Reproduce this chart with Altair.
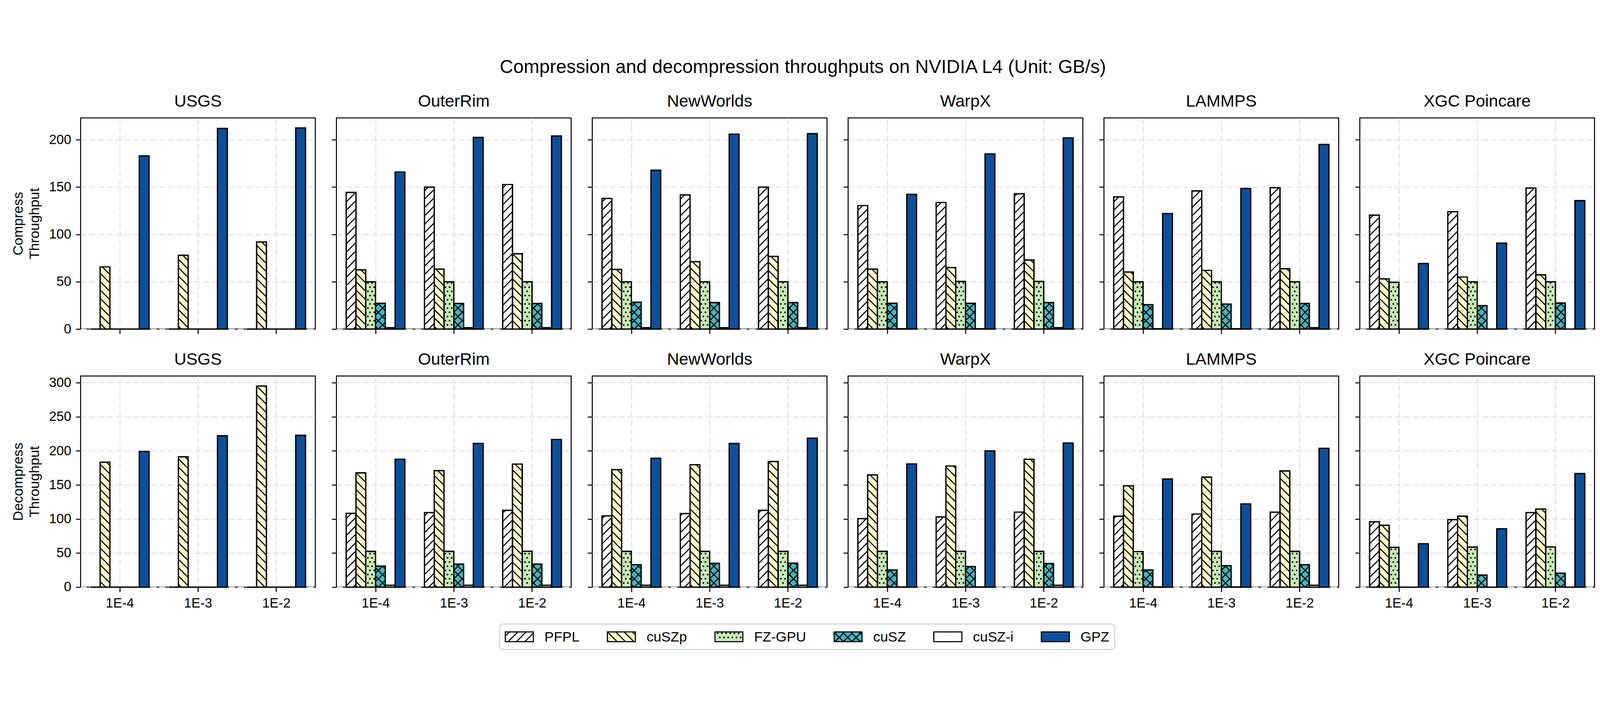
import json
import altair as alt
import pandas as pd

FONT = "Liberation Sans"

main_title = "Compression and decompression throughputs on NVIDIA L4 (Unit: GB/s)"
datasets = ["USGS", "OuterRim", "NewWorlds", "WarpX", "LAMMPS", "XGC Poincare"]
error_bounds = ["1E-4", "1E-3", "1E-2"]
compressors = ["PFPL", "cuSZp", "FZ-GPU", "cuSZ", "cuSZ-i", "GPZ"]
fill_colors = ["#ffffff", "#ffffcc", "#c7e9b4", "#41b6c4", "#ffffff", "#0b509c"]

# Compression throughput (GB/s): one list per dataset, values for 1E-4, 1E-3, 1E-2
comp_pfpl = [[0, 0, 0], [144.4, 150, 152.8], [138, 141.7, 150], [130.5, 133.8, 143], [139.7, 146, 149.4], [120.4, 124, 149]]
comp_cuszp = [[65.7, 78, 92], [62.6, 63.3, 79.6], [63, 71.2, 76.8], [63.3, 65, 73], [60.3, 62, 63.7], [53, 55, 57.3]]
comp_fzgpu = [[0, 0, 0], [50, 50, 50], [50, 50, 50], [50, 50.4, 50.4], [50, 50, 50], [49.4, 50, 50]]
comp_cusz = [[0, 0, 0], [27.2, 27, 27], [28.4, 28, 28], [27.3, 27.3, 28], [25.8, 26.4, 27], [0, 24.8, 27.5]]
comp_cuszi = [[0, 0, 0], [1.4, 1.4, 1.4], [1.4, 1.4, 1.4], [0.3, 0.3, 1.4], [0.3, 0.3, 1.4], [0, 0, 0]]
comp_gpz = [[183, 212, 212.5], [166, 202.5, 204], [167.8, 206, 206.5], [142.3, 185, 202], [122, 148.6, 195], [69.2, 90.8, 135.7]]

# Decompression throughput (GB/s)
dec_pfpl = [[0, 0, 0], [108.4, 109.5, 112.7], [104.6, 108, 112.7], [100.5, 103, 110.2], [104.1, 107.3, 110], [96, 99.2, 109.5]]
dec_cuszp = [[183.5, 191.3, 295.2], [167.7, 171, 180.7], [172.6, 179.6, 184.4], [164.7, 177.8, 187.7], [148.7, 161.4, 170.6], [90.8, 104.1, 114.7]]
dec_fzgpu = [[0, 0, 0], [52.5, 52.5, 52.7], [52.5, 52.5, 52.5], [52.5, 52.5, 52.5], [52.3, 52.5, 52.5], [58.4, 58.8, 59]]
dec_cusz = [[0, 0, 0], [30.9, 33.8, 33.8], [32.9, 34.9, 35.2], [25.2, 30.2, 34.7], [25.2, 31.5, 32.9], [0, 17.8, 20.5]]
dec_cuszi = [[0, 0, 0], [2.7, 2.7, 2.7], [2.7, 2.7, 2.7], [0.3, 0.3, 2.7], [0.3, 0.3, 2.7], [0, 0, 0]]
dec_gpz = [[199.2, 222.2, 222.9], [187.7, 211, 216.8], [189.3, 211, 218.6], [180.8, 200, 211.6], [158.7, 122.2, 203.7], [63.6, 85.6, 166.8]]

row_titles = {"Compress": ["Compress", "Throughput"], "Decompress": ["Decompress", "Throughput"]}
y_ticks = {"Compress": [0, 50, 100, 150, 200], "Decompress": [0, 50, 100, 150, 200, 250, 300]}

tables = {
    "Compress": [comp_pfpl, comp_cuszp, comp_fzgpu, comp_cusz, comp_cuszi, comp_gpz],
    "Decompress": [dec_pfpl, dec_cuszp, dec_fzgpu, dec_cusz, dec_cuszi, dec_gpz],
}

records = []
for rowname, table in tables.items():
    for si, comp in enumerate(compressors):
        for di, ds in enumerate(datasets):
            for ei, eb in enumerate(error_bounds):
                records.append({"row": rowname, "dataset": ds, "eb": eb, "comp": comp,
                                "value": table[si][di][ei]})
df = pd.DataFrame(records)

# ---- layout / style constants ----
W, H = 700, 630
BARW = 0.125          # bar width in category units (6 bars -> 0.75 of a group)
PXX = W / 3.0         # pixels per category unit (domain -0.5..2.5)
S_LINE = 25.0         # hatch line spacing (px, vertical)
S_DOT = 12.5          # dot hatch spacing (px)
EDGE = 3.6
HATCH_W = 3.2
TICK_FS = 40
TITLE_FS = 50
PAD_LEFT = 22
LEGEND_SHIFT = 1248   # legend frame offset from the left edge of the first panel

EB_JS = json.dumps(error_bounds)
COMP_JS = json.dumps(compressors)

color_scale = alt.Scale(domain=compressors, range=fill_colors)


def hatch_layers(base, xs, ys, pxx, pxy, xa, ya):
    """Hatch decorations drawn inside each rectangle described by
    xl (data x of left edge), pxl (px of left edge), wpx/hpx (px size), ybpx (px of bottom)."""
    ne = (
        base.transform_filter("(datum.comp == 'PFPL' || datum.comp == 'cuSZ') && datum.hpx > 0")
        .transform_calculate(k="sequence(0, 34)")
        .transform_flatten(["k"])
        .transform_calculate(m0=f"floor((-datum.wpx - datum.pxl) / {S_LINE}) + 1")
        .transform_calculate(c=f"datum.pxl + {S_LINE} * (datum.m0 + datum.k)")
        .transform_filter("datum.c < datum.hpx")
        .transform_calculate(qx0="max(0, -datum.c)")
        .transform_calculate(qx1="min(datum.wpx, datum.hpx - datum.c)")
        .transform_filter("datum.qx1 > datum.qx0")
        .transform_calculate(hx0=f"datum.xl + datum.qx0 / {pxx}")
        .transform_calculate(hx1=f"datum.xl + datum.qx1 / {pxx}")
        .transform_calculate(hy0=f"(datum.ybpx + datum.qx0 + datum.c) / {pxy}")
        .transform_calculate(hy1=f"(datum.ybpx + datum.qx1 + datum.c) / {pxy}")
        .mark_rule(color="black", strokeWidth=HATCH_W)
        .encode(x=alt.X("hx0:Q", scale=xs, axis=xa), x2="hx1:Q",
                y=alt.Y("hy0:Q", scale=ys, axis=ya), y2="hy1:Q")
    )
    se = (
        base.transform_filter("(datum.comp == 'cuSZp' || datum.comp == 'cuSZ') && datum.hpx > 0")
        .transform_calculate(k="sequence(0, 34)")
        .transform_flatten(["k"])
        .transform_calculate(m0=f"floor(datum.pxl / {S_LINE}) + 1")
        .transform_calculate(c=f"{S_LINE} * (datum.m0 + datum.k) - datum.pxl")
        .transform_filter("datum.c < datum.hpx + datum.wpx")
        .transform_calculate(qx0="max(0, datum.c - datum.hpx)")
        .transform_calculate(qx1="min(datum.wpx, datum.c)")
        .transform_filter("datum.qx1 > datum.qx0")
        .transform_calculate(hx0=f"datum.xl + datum.qx0 / {pxx}")
        .transform_calculate(hx1=f"datum.xl + datum.qx1 / {pxx}")
        .transform_calculate(hy0=f"(datum.ybpx + datum.c - datum.qx0) / {pxy}")
        .transform_calculate(hy1=f"(datum.ybpx + datum.c - datum.qx1) / {pxy}")
        .mark_rule(color="black", strokeWidth=HATCH_W)
        .encode(x=alt.X("hx0:Q", scale=xs, axis=xa), x2="hx1:Q",
                y=alt.Y("hy0:Q", scale=ys, axis=ya), y2="hy1:Q")
    )
    dots = (
        base.transform_filter("datum.comp == 'FZ-GPU' && datum.hpx > 0")
        .transform_calculate(r="sequence(1, 60)")
        .transform_flatten(["r"])
        .transform_calculate(py=f"datum.r * {S_DOT}")
        .transform_filter("datum.py < datum.hpx - 2")
        .transform_calculate(j="sequence(0, 12)")
        .transform_flatten(["j"])
        .transform_calculate(pxg=f"{S_DOT} * (floor(datum.pxl / {S_DOT}) - 1 + datum.j) + (datum.r % 2) * {S_DOT / 2}")
        .transform_calculate(qx="datum.pxg - datum.pxl")
        .transform_filter("datum.qx > 3 && datum.qx < datum.wpx - 3")
        .transform_calculate(dx=f"datum.xl + datum.qx / {pxx}")
        .transform_calculate(dy=f"(datum.ybpx + datum.py) / {pxy}")
        .mark_circle(color="black", size=26, opacity=1)
        .encode(x=alt.X("dx:Q", scale=xs, axis=xa),
                y=alt.Y("dy:Q", scale=ys, axis=ya))
    )
    return [ne, se, dots]


def y_max(rowname):
    vals = df[df.row == rowname]["value"]
    return float(vals.max()) * 1.05


def panel(rowname, ds, col_idx):
    sub = df[(df.row == rowname) & (df.dataset == ds)].reset_index(drop=True)
    ymax = y_max(rowname)
    pxy = H / ymax
    xs = alt.Scale(domain=[-0.5, 2.5], nice=False, zero=False)
    ys = alt.Scale(domain=[0, ymax], nice=False, zero=True)

    base = (
        alt.Chart(sub)
        .transform_calculate(ci=f"indexof({EB_JS}, datum.eb)")
        .transform_calculate(si=f"indexof({COMP_JS}, datum.comp)")
        .transform_calculate(xl=f"datum.ci + (datum.si - 3) * {BARW}")
        .transform_calculate(xr=f"datum.xl + {BARW}")
        .transform_calculate(zero="0")
        .transform_calculate(ybpx="0")
        .transform_calculate(wpx=f"{BARW * PXX}")
        .transform_calculate(hpx=f"datum.value * {pxy}")
        .transform_calculate(pxl=f"(datum.xl + 0.5) * {PXX}")
    )

    xa = alt.Axis(values=[0, 1, 2], labelExpr=f"{EB_JS}[datum.value]",
                  labels=(rowname == "Decompress"), title=None)
    if col_idx == 0:
        ya = alt.Axis(values=y_ticks[rowname], title=row_titles[rowname])
    else:
        ya = alt.Axis(values=y_ticks[rowname], labels=False, title=None)

    bars = base.mark_bar(stroke="black", strokeWidth=EDGE, fillOpacity=1).encode(
        x=alt.X("xl:Q", scale=xs, axis=xa),
        x2="xr:Q",
        y=alt.Y("value:Q", scale=ys, axis=ya),
        y2="zero:Q",
        color=alt.Color("comp:N", scale=color_scale, legend=None),
    )
    outline = base.mark_bar(stroke="black", strokeWidth=EDGE, fill="white", fillOpacity=0).encode(
        x=alt.X("xl:Q", scale=xs, axis=xa),
        x2="xr:Q",
        y=alt.Y("value:Q", scale=ys, axis=ya),
        y2="zero:Q",
    )
    layers = [bars] + hatch_layers(base, xs, ys, PXX, pxy, xa, ya) + [outline]
    return alt.layer(*layers).properties(
        width=W, height=H,
        title=alt.TitleParams(ds, fontSize=TITLE_FS, fontWeight="normal", font=FONT,
                              color="black", offset=24),
    )


# ---- legend (drawn as its own small chart so the patches can carry hatches) ----
LEG_FS = 41.7
CHAR_EM = {"P": .667, "F": .611, "L": .556, "c": .5, "u": .556, "S": .667, "Z": .611,
           "p": .556, "-": .333, "G": .778, "U": .722, "i": .222}
HANDLE_W, HANDLE_H = 2.0 * LEG_FS, 0.7 * LEG_FS
HANDLE_PAD, COL_SP, BORDER_PAD = 0.8 * LEG_FS, 2.0 * LEG_FS, 0.4 * LEG_FS
LH = 76

leg_x = []
cur = BORDER_PAD
for name in compressors:
    leg_x.append(cur)
    cur += HANDLE_W + HANDLE_PAD + LEG_FS * sum(CHAR_EM.get(ch, 0.55) for ch in name) + COL_SP
LW = cur - COL_SP + BORDER_PAD

leg_df = pd.DataFrame({"comp": compressors, "hx": leg_x})
lxs = alt.Scale(domain=[0, LW], nice=False, zero=False)
lys = alt.Scale(domain=[0, LH], nice=False, zero=False)
lbase = (
    alt.Chart(leg_df)
    .transform_calculate(xl="datum.hx")
    .transform_calculate(xr=f"datum.hx + {HANDLE_W}")
    .transform_calculate(pxl="datum.hx")
    .transform_calculate(wpx=f"{HANDLE_W}")
    .transform_calculate(hpx=f"{HANDLE_H}")
    .transform_calculate(ybpx=f"{(LH - HANDLE_H) / 2}")
    .transform_calculate(yt=f"{(LH + HANDLE_H) / 2}")
    .transform_calculate(lx=f"datum.hx + {HANDLE_W + HANDLE_PAD}")
    .transform_calculate(ly=f"{LH / 2}")
)
lpatch = lbase.mark_rect(stroke="black", strokeWidth=EDGE * 0.8).encode(
    x=alt.X("xl:Q", scale=lxs, axis=None), x2="xr:Q",
    y=alt.Y("ybpx:Q", scale=lys, axis=None), y2="yt:Q",
    color=alt.Color("comp:N", scale=color_scale, legend=None),
)
loutline = lbase.mark_rect(stroke="black", strokeWidth=EDGE * 0.8, fill="white", fillOpacity=0).encode(
    x=alt.X("xl:Q", scale=lxs, axis=None), x2="xr:Q",
    y=alt.Y("ybpx:Q", scale=lys, axis=None), y2="yt:Q",
)
ltext = lbase.mark_text(align="left", baseline="middle", fontSize=LEG_FS, font=FONT, color="black", dy=1).encode(
    x=alt.X("lx:Q", scale=lxs, axis=None), y=alt.Y("ly:Q", scale=lys, axis=None), text="comp:N",
)
legend_chart = alt.layer(
    lpatch, *hatch_layers(lbase, lxs, lys, 1.0, 1.0, None, None), loutline, ltext
).properties(
    width=LW, height=LH,
    view=alt.ViewBackground(stroke="#cccccc", strokeWidth=2.5, cornerRadius=10, fill="white"),
)

# invisible spacer that pushes the legend to its place under the panels
spacer = (
    alt.Chart(pd.DataFrame({"v": [0]}))
    .mark_rule(opacity=0)
    .encode(y=alt.value(0))
    .properties(width=LEGEND_SHIFT, height=LH,
                view=alt.ViewBackground(stroke="transparent", strokeWidth=0, fill="transparent"))
)
legend_row = alt.hconcat(spacer, legend_chart, spacing=0)

rows = []
for rowname in ["Compress", "Decompress"]:
    panels = [panel(rowname, ds, ci) for ci, ds in enumerate(datasets)]
    rows.append(alt.hconcat(*panels, spacing=44))

grid = alt.vconcat(*rows, spacing=42)

chart = (
    alt.vconcat(grid, legend_row, spacing=38)
    .properties(
        title=alt.TitleParams(main_title, fontSize=56, fontWeight="normal", font=FONT,
                              color="black", anchor="middle", offset=46),
        padding={"left": PAD_LEFT, "top": 16, "right": 5, "bottom": 5},
    )
    .configure(font=FONT)
    .configure_view(stroke="black", strokeWidth=3)
    .configure_axis(
        grid=True, gridColor="#dddddd", gridDash=[18, 8], gridWidth=2.5,
        domain=False, ticks=True, tickColor="black", tickSize=14, tickWidth=3,
        labelFont=FONT, labelFontSize=TICK_FS, labelColor="black", labelPadding=14,
        titleFont=FONT, titleFontSize=41.7, titleFontWeight="normal", titleColor="black",
        titlePadding=20, titleLineHeight=50,
    )
)

chart.save("out.html", embed_options={"renderer": "svg", "actions": False})
